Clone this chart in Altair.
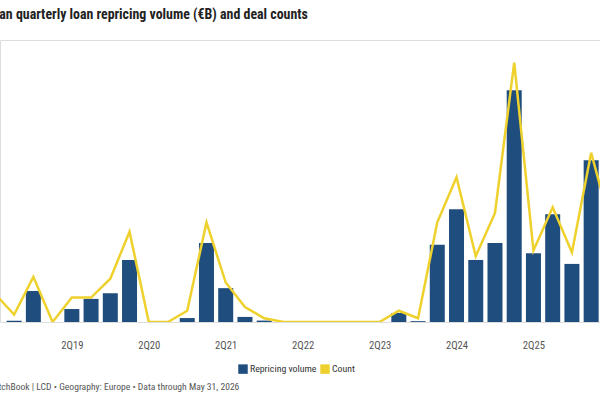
import altair as alt
import pandas as pd

quarters = ["2Q18", "3Q18", "4Q18", "1Q19", "2Q19", "3Q19", "4Q19", "1Q20", "2Q20", "3Q20",
            "4Q20", "1Q21", "2Q21", "3Q21", "4Q21", "1Q22", "2Q22", "3Q22", "4Q22", "1Q23",
            "2Q23", "3Q23", "4Q23", "1Q24", "2Q24", "3Q24", "4Q24", "1Q25", "2Q25", "3Q25",
            "4Q25", "1Q26", "2Q26"]
volume = [None, 0.2, 5.5, 0, 2.3, 4.1, 5.1, 11.0, 0, 0,
          0.7, 14.0, 6.0, 0.9, 0.25, 0, 0, 0, 0, 0,
          0, 1.6, 0.15, 13.7, 20.0, 11.0, 14.0, 41.1, 12.2, 19.1,
          10.3, 28.7, None]
count = [15, 4, 24, 0, 13, 13, 23, 48, 0, 0,
         6, 53, 21, 8, 2, 0, 0, 0, 0, 0,
         0, 6, 2, 53, 77, 35, 58, 138, 38, 61,
         37, 90, 52]
tick_labels = ["2Q18", "2Q19", "2Q20", "2Q21", "2Q22", "2Q23", "2Q24", "2Q25"]
series = ["Repricing volume", "Count"]

title_text = "European quarterly loan repricing volume (€B) and deal counts"
source_text = "PitchBook | LCD • Geography: Europe • Data through May 31, 2026"

BLUE = "#1f4e7e"
YELLOW = "#efd12e"
COND = "Roboto Condensed, Roboto"

df = pd.DataFrame({
    "q": list(range(-1, len(quarters) - 1)),
    "quarter": quarters,
    "volume": volume,
    "count": count,
})

tick_pos = [quarters.index(t) - 1 for t in tick_labels]
label_expr = "[" + ",".join("'%s'" % t for t in tick_labels) + "][(datum.value + 1) / 4]"

x_enc = alt.X(
    "q:Q",
    scale=alt.Scale(domain=[-0.475, 30.2], nice=False, zero=False),
    axis=alt.Axis(
        values=tick_pos, labelExpr=label_expr, title=None, domain=False, ticks=False,
        grid=False, labelFlush=False, labelOverlap=False, labelPadding=18, labelBound=False,
        labelFont=COND, labelFontSize=10.7, labelColor="#555555",
    ),
)

color_scale = alt.Scale(domain=series, range=[BLUE, YELLOW])
legend = alt.Legend(
    title=None, orient="none", legendX=238, legendY=324, direction="horizontal",
    symbolType="square", symbolSize=90, symbolStrokeWidth=0, labelFont=COND,
    labelFontSize=9.8, labelColor="#333333", columnPadding=3, labelOffset=2,
)

bars = alt.Chart(df).transform_calculate(series="'%s'" % series[0]).mark_bar(size=15, clip=True).encode(
    x=x_enc,
    y=alt.Y("volume:Q", scale=alt.Scale(domain=[0, 50], nice=False), axis=None),
    color=alt.Color("series:N", scale=color_scale, legend=legend),
)

line = alt.Chart(df).transform_calculate(series="'%s'" % series[1]).mark_line(strokeWidth=2.5, clip=True).encode(
    x=x_enc,
    y=alt.Y("count:Q", scale=alt.Scale(domain=[0, 150], nice=False), axis=None),
    color=alt.Color("series:N", scale=color_scale, legend=legend),
)

title = alt.Chart(pd.DataFrame({"t": [title_text]})).mark_text(
    align="left", baseline="middle", font=COND, fontSize=13.9, fontWeight="bold", color="#222222"
).encode(text="t:N", x=alt.value(-39), y=alt.value(-25))

source = alt.Chart(pd.DataFrame({"t": [source_text]})).mark_text(
    align="left", baseline="middle", font=COND, fontSize=9.6, color="#555555"
).encode(text="t:N", x=alt.value(-9), y=alt.value(347))

chart = alt.layer(bars, line, title, source).resolve_scale(y="independent").properties(
    width=600, height=282,
    autosize=alt.AutoSizeParams(type="none"),
    padding={"left": 0, "right": 0, "top": 40, "bottom": 78},
).configure_view(stroke=None).configure(background="white")

chart.save("out.html", embed_options={"renderer": "svg", "actions": False})
